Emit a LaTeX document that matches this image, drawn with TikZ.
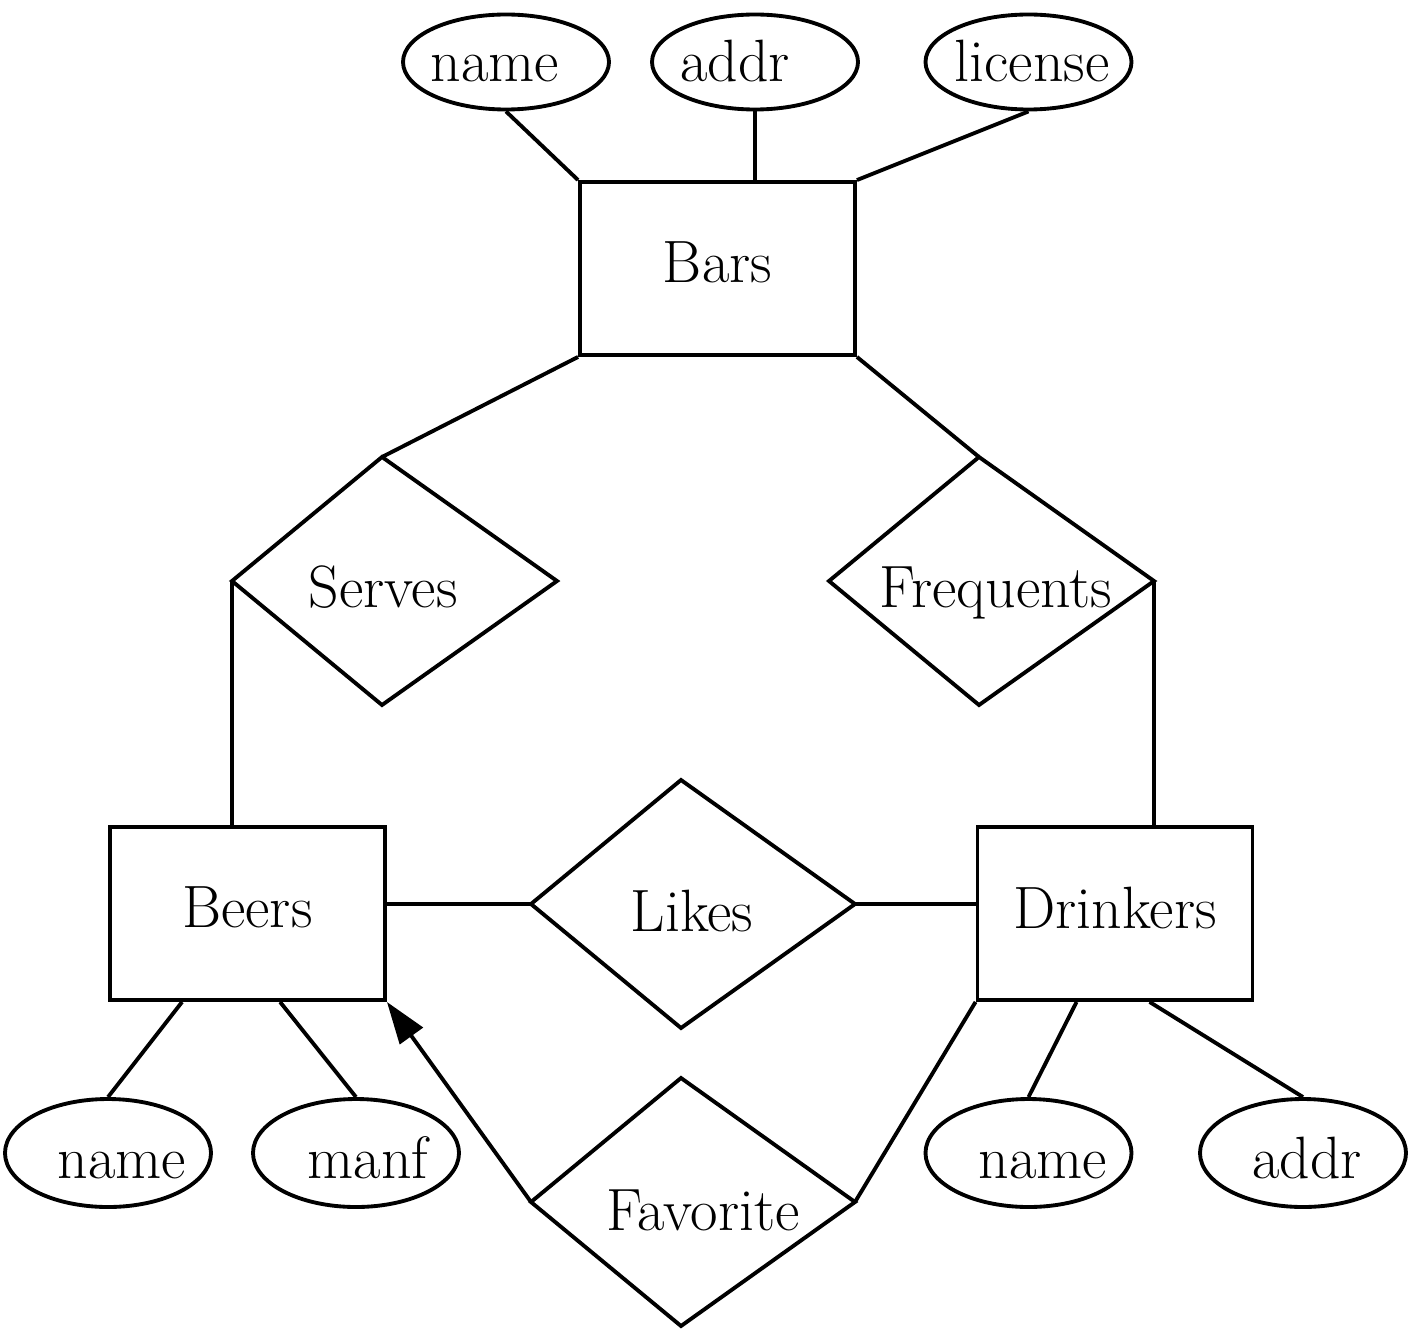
\documentclass[tikz,border=0pt]{standalone}
\usepackage{tikz}
\usetikzlibrary{shapes.geometric,arrows.meta,calc}

\tikzset{
  entity/.style={draw, rectangle, inner sep=0pt, text depth=0.12cm, minimum width=2.75cm, minimum height=1.73cm},
  attrtop/.style={draw, ellipse, inner sep=0pt, minimum width=2.06cm, minimum height=0.95cm},
  attrbot/.style={draw, ellipse, inner sep=0pt, minimum width=2.06cm, minimum height=1.08cm},
  label text/.style={anchor=base, inner sep=0pt},
  isa/.style={-{Triangle[length=4.2mm,width=2.8mm]}},
}

\begin{document}
\begin{tikzpicture}[line width=1.1pt, font=\fontsize{17}{20}\selectfont]
				\useasboundingbox (0,0) rectangle (14.09,-13.31);
				% entities
				\node [entity] (bars) at (7.175,-2.685) {Bars};
				\node [entity] (beers) at (2.475,-9.135) {Beers};
				\node [entity] (drinkers) at (11.15,-9.135) {Drinkers};
				% attributes
				\node [attrtop] (bars-name) at (5.06,-0.62) {};
				\node [label text] (bars-name-t) at (4.95,-0.82) {name};
				\node [attrtop] (bars-addr) at (7.55,-0.62) {};
				\node [label text] (bars-addr-t) at (7.35,-0.82) {addr};
				\node [attrtop] (bars-lic) at (10.285,-0.62) {};
				\node [label text] (bars-lic-t) at (10.32,-0.82) {license};
				\node [attrbot] (beer-name) at (1.08,-11.53) {};
				\node [label text] (beer-name-t) at (1.22,-11.78) {name};
				\node [attrbot] (beer-manf) at (3.56,-11.53) {};
				\node [label text] (beer-manf-t) at (3.68,-11.78) {manf};
				\node [attrbot] (drk-name) at (10.285,-11.53) {};
				\node [label text] (drk-name-t) at (10.43,-11.78) {name};
				\node [attrbot] (drk-addr) at (13.03,-11.53) {};
				\node [label text] (drk-addr-t) at (13.07,-11.78) {addr};
				% relationships
				\draw (3.82,-4.57) coordinate (serves-t) -- (5.57,-5.81) coordinate (serves-r) -- (3.82,-7.05) coordinate (serves-b) -- (2.32,-5.81) coordinate (serves-l) -- cycle;
				\node [label text] (serves) at (3.83,-6.07) {Serves};
				\draw (9.79,-4.57) coordinate (freq-t) -- (11.54,-5.81) coordinate (freq-r) -- (9.79,-7.05) coordinate (freq-b) -- (8.29,-5.81) coordinate (freq-l) -- cycle;
				\node [label text] (frequents) at (9.96,-6.07) {Frequents};
				\draw (6.81,-7.80) coordinate (likes-t) -- (8.55,-9.04) coordinate (likes-r) -- (6.81,-10.28) coordinate (likes-b) -- (5.31,-9.04) coordinate (likes-l) -- cycle;
				\node [label text] (likes) at (6.92,-9.31) {Likes};
				\draw (6.81,-10.78) coordinate (fav-t) -- (8.55,-12.02) coordinate (fav-r) -- (6.81,-13.26) coordinate (fav-b) -- (5.31,-12.02) coordinate (fav-l) -- cycle;
				\node [label text] (favorite) at (7.03,-12.30) {Favorite};
				% connectors
				\draw (bars-name.south) -- (bars.north west);
				\draw (bars-addr.south) -- (bars-addr.south |- bars.north);
				\draw (bars-lic.south) -- (bars.north east);
				\draw (bars.south west) -- (serves-t);
				\draw (bars.south east) -- (freq-t);
				\draw (serves-l) -- (serves-l |- beers.north);
				\draw (freq-r) -- (freq-r |- drinkers.north);
				\draw (likes-l) -- (likes-l -| beers.east);
				\draw (likes-r) -- (likes-r -| drinkers.west);
				\draw [isa] (fav-l) -- (beers.south east);
				\draw (fav-r) -- (drinkers.south west);
				\draw ($(beers.south west)+(0.74,0)$) -- (beer-name.north);
				\draw ($(beers.south west)+(1.72,0)$) -- (beer-manf.north);
				\draw ($(drinkers.south west)+(1.01,0)$) -- (drk-name.north);
				\draw ($(drinkers.south west)+(1.74,0)$) -- (drk-addr.north);
			\end{tikzpicture}
\end{document}
